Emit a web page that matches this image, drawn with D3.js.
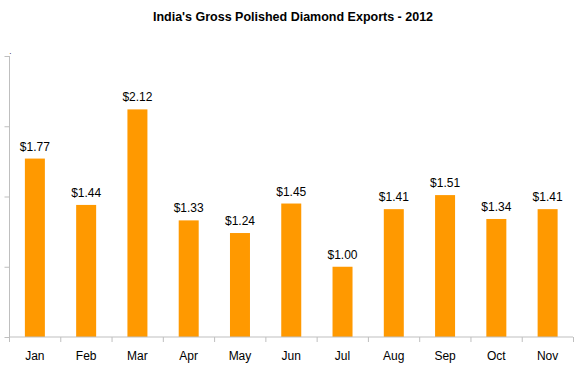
<!DOCTYPE html>
<html>
<head>
<meta charset="utf-8">
<script src="https://cdn.jsdelivr.net/npm/d3@7"></script>
<style>
  body { margin: 0; background: #fff; }
  text { font-family: "Liberation Sans", Arial, sans-serif; }
</style>
</head>
<body>
<div id="wrapper"></div>
<script>
// data
const months = ['Jan', 'Feb', 'Mar', 'Apr', 'May', 'Jun', 'Jul', 'Aug', 'Sep', 'Oct', 'Nov']
const exports = [1.77, 1.44, 2.12, 1.33, 1.24, 1.45, 1.00, 1.41, 1.51, 1.34, 1.41]
const yTicks = [0.5, 1.0, 1.5, 2.0, 2.5]

const dimensions = {
    width: 578,
    height: 376,
    margin: { top: 56, right: 5, bottom: 39, left: 9.5 },
}
dimensions.boundedWidth = dimensions.width - dimensions.margin.left - dimensions.margin.right
dimensions.boundedHeight = dimensions.height - dimensions.margin.top - dimensions.margin.bottom

const svg = d3.select('#wrapper')
    .append('svg')
    .attr('width', dimensions.width)
    .attr('height', dimensions.height)

svg.append('text')
    .attr('x', 293)
    .attr('y', 21)
    .attr('text-anchor', 'middle')
    .style('font-size', '12.5px')
    .style('font-weight', 'bold')
    .text("India's Gross Polished Diamond Exports - 2012")

const bounds = svg.append('g')
    .attr('transform', `translate(${dimensions.margin.left},${dimensions.margin.top})`)

const xScale = d3.scaleBand()
    .domain(months)
    .range([0, dimensions.boundedWidth])
    .paddingInner(0.61)
    .paddingOuter(0.3)

const bandStep = xScale.step()
const yScale = d3.scaleLinear()
    .domain([0.5, 2.5])
    .range([dimensions.boundedHeight, 0])

const axisColor = '#bfbfbf'

// y axis
const yAxis = bounds.append('g')
    .call(d3.axisLeft(yScale).tickValues(yTicks).tickSize(5).tickFormat(''))
yAxis.select('.domain').attr('stroke', axisColor).attr('d', `M0,0V${dimensions.boundedHeight}`)
yAxis.selectAll('.tick line').attr('stroke', axisColor)
// empty axis title leaves a small dot in the original
yAxis.append('text')
    .attr('x', 2)
    .attr('y', -2)
    .attr('fill', '#000')
    .style('font-size', '8px')
    .text('.')

// bars
bounds.selectAll('.bar')
    .data(exports)
    .join('rect')
    .attr('class', 'bar')
    .attr('x', (d, i) => xScale(months[i]))
    .attr('width', xScale.bandwidth())
    .attr('y', d => yScale(d))
    .attr('height', d => dimensions.boundedHeight - yScale(d))
    .attr('fill', '#ff9900')

// value labels
bounds.selectAll('.label')
    .data(exports)
    .join('text')
    .attr('class', 'label')
    .attr('x', (d, i) => xScale(months[i]) + xScale.bandwidth() / 2)
    .attr('y', d => yScale(d) - 8)
    .attr('text-anchor', 'middle')
    .style('font-size', '12px')
    .text(d => '$' + d3.format('.2f')(d))

// x axis with ticks between categories
const xAxis = bounds.append('g')
    .attr('transform', `translate(0,${dimensions.boundedHeight})`)
xAxis.append('line')
    .attr('x1', 0).attr('x2', dimensions.boundedWidth)
    .attr('stroke', axisColor)
xAxis.selectAll('.sep')
    .data(d3.range(months.length + 1))
    .join('line')
    .attr('x1', i => i * bandStep).attr('x2', i => i * bandStep)
    .attr('y1', 0).attr('y2', 5)
    .attr('stroke', axisColor)
xAxis.selectAll('.cat')
    .data(months)
    .join('text')
    .attr('x', d => xScale(d) + xScale.bandwidth() / 2)
    .attr('y', 23)
    .attr('text-anchor', 'middle')
    .style('font-size', '12px')
    .text(d => d)
</script>
</body>
</html>
